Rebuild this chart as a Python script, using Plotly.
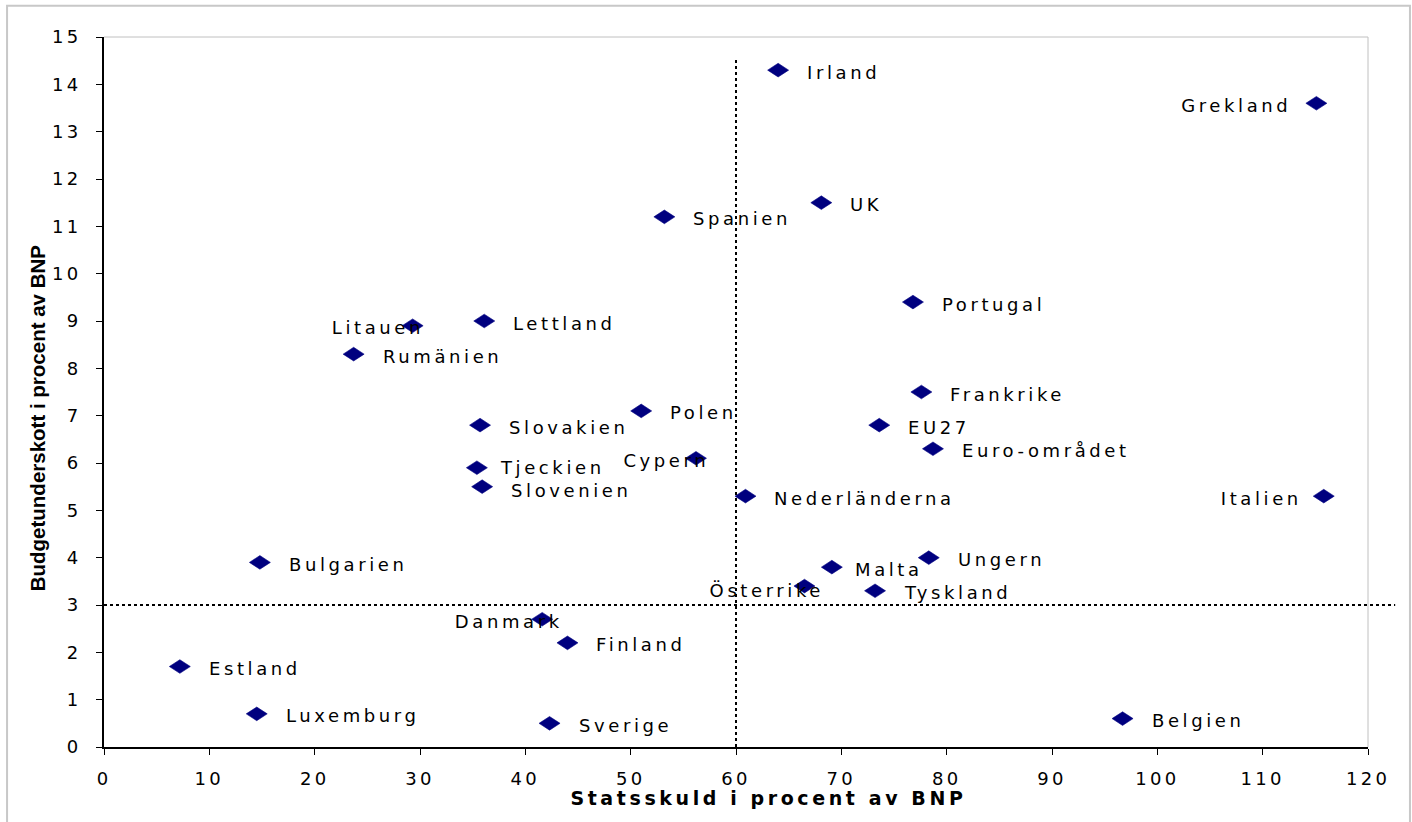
import plotly.graph_objects as go

# Government debt (x) and budget deficit (y), percent of GDP
countries = [
    "Irland", "Grekland", "UK", "Spanien", "Portugal", "Lettland", "Litauen",
    "Rumänien", "Frankrike", "Polen", "Slovakien", "EU27", "Euro-området",
    "Cypern", "Tjeckien", "Slovenien", "Nederländerna", "Italien", "Bulgarien",
    "Ungern", "Malta", "Österrike", "Tyskland", "Danmark", "Finland",
    "Estland", "Luxemburg", "Sverige", "Belgien",
]
debt = [
    64.0, 115.1, 68.1, 53.2, 76.8, 36.1, 29.3,
    23.7, 77.6, 51.0, 35.7, 73.6, 78.7,
    56.2, 35.4, 35.9, 60.9, 115.8, 14.8,
    78.3, 69.1, 66.5, 73.2, 41.6, 44.0,
    7.2, 14.5, 42.3, 96.7,
]
deficit = [
    14.3, 13.6, 11.5, 11.2, 9.4, 9.0, 8.9,
    8.3, 7.5, 7.1, 6.8, 6.8, 6.3,
    6.1, 5.9, 5.5, 5.3, 5.3, 3.9,
    4.0, 3.8, 3.4, 3.3, 2.7, 2.2,
    1.7, 0.7, 0.5, 0.6,
]

x_ticks = list(range(0, 121, 10))
y_ticks = list(range(0, 16, 1))
DEBT_LIMIT = 60
DEFICIT_LIMIT = 3
X_RANGE = [0, 120]
Y_RANGE = [0, 15]

FONT = "DejaVu Sans, Verdana, sans-serif"
NAVY = "#00007f"
LABEL_SPACING = 3.6  # px of letter-spacing for the wide Verdana-style labels
TICK_SPACING = 3.3
MARKER_Y_STRETCH = 1.3  # turns the 2:1 wide diamond into a 3:2 rhombus

# Label placement: which side of the label sits at the marker, and shift (px)
label_side = {
    "Grekland": ("right", -27), "Italien": ("right", -23),
    "Litauen": ("right", 10), "Cypern": ("right", 11),
    "Danmark": ("right", 19), "Österrike": ("right", 18),
    "Tjeckien": ("left", 21), "Malta": ("left", 21),
}
label_dy = {"Österrike": -4, "Litauen": -2, "Tjeckien": 0, "Slovenien": -4}

fig = go.Figure()
fig.add_trace(go.Scatter(
    x=debt, y=deficit, mode="markers",
    marker=dict(symbol="diamond-wide", size=15, color=NAVY,
                line=dict(color=NAVY, width=0.5)),
    hovertext=countries, hoverinfo="text", showlegend=False,
))

annotations = []
for name, xv, yv in zip(countries, debt, deficit):
    side, shift = label_side.get(name, ("left", 27))
    if side == "right":
        # end-anchored text carries trailing letter-spacing after the last glyph
        shift += LABEL_SPACING
    annotations.append(dict(
        x=xv, y=yv, xref="x", yref="y", text=name, showarrow=False,
        xanchor=side, align=side, yanchor="middle", xshift=shift,
        yshift=label_dy.get(name, -2),
        font=dict(family=FONT, size=18, color="#000000"),
    ))

annotations.append(dict(
    x=0.526, y=-0.072, xref="paper", yref="paper", yanchor="middle",
    text="<b>Statsskuld i procent av BNP</b>", showarrow=False,
    font=dict(family=FONT, size=19, color="#000000"),
))
annotations.append(dict(
    x=-0.053, y=0.463, xref="paper", yref="paper", textangle=-90,
    xanchor="center", yanchor="middle",
    text="<b>Budgetunderskott i procent av BNP</b>", showarrow=False,
    font=dict(family="Liberation Sans Narrow, Liberation Sans, Arial, sans-serif",
              size=20.5, color="#000000"),
))

shapes = [
    # 60 % debt criterion
    dict(type="line", xref="x", yref="y", x0=DEBT_LIMIT, x1=DEBT_LIMIT,
         y0=0, y1=14.55, line=dict(color="#000000", width=2, dash="dot")),
    # 3 % deficit criterion, running past the plot edge
    dict(type="line", xref="x domain", yref="y domain", x0=0, x1=1.0215,
         y0=DEFICIT_LIMIT / Y_RANGE[1], y1=DEFICIT_LIMIT / Y_RANGE[1],
         line=dict(color="#000000", width=2, dash="dot")),
    # light frame on the top and right of the plot area
    dict(type="line", xref="x domain", yref="y domain", x0=0, x1=1, y0=1, y1=1,
         line=dict(color="#c0c0c0", width=1)),
    dict(type="line", xref="x domain", yref="y domain", x0=1, x1=1, y0=0, y1=1,
         line=dict(color="#c0c0c0", width=1)),
    # outer chart border
    dict(type="rect", xref="paper", yref="paper", x0=-0.0767, x1=1.0332,
         y0=-0.15, y1=1.0441, line=dict(color="#c8c8c8", width=2),
         layer="below"),
]

fig.update_layout(
    width=1412, height=822,
    margin=dict(l=104, r=44, t=37, b=75),
    plot_bgcolor="#ffffff", paper_bgcolor="#ffffff",
    font=dict(family=FONT, size=18, color="#000000"),
    annotations=annotations, shapes=shapes,
    xaxis=dict(
        range=X_RANGE, tickmode="array", tickvals=x_ticks,
        ticktext=[str(v) for v in x_ticks],
        showgrid=False, zeroline=False, showline=True,
        linecolor="#000000", linewidth=2, ticks="outside", ticklen=6,
        tickcolor="#000000", tickwidth=1, ticklabelstandoff=8,
        tickfont=dict(family=FONT, size=18, color="#000000"),
    ),
    yaxis=dict(
        range=Y_RANGE, tickmode="array", tickvals=y_ticks,
        ticktext=[str(v) for v in y_ticks],
        showgrid=False, zeroline=False, showline=True,
        linecolor="#000000", linewidth=2, ticks="outside", ticklen=6,
        tickcolor="#000000", tickwidth=1, ticklabelstandoff=11,
        tickfont=dict(family=FONT, size=18, color="#000000"),
    ),
)

# Widen the Verdana-style texts with letter-spacing (the rotated y title
# keeps its condensed look) and give the diamond markers a 3:2 shape.
post_script = """
var gd = document.getElementById('{plot_id}');
gd.querySelectorAll('.annotation-text').forEach(function (t) {
  if (t.textContent.indexOf('Budget') === 0) { return; }
  t.style.letterSpacing = '%spx';
});
gd.querySelectorAll('.xtick text, .ytick text').forEach(function (t) {
  t.style.letterSpacing = '%spx';
});
gd.querySelectorAll('.scatterlayer path.point').forEach(function (p) {
  p.setAttribute('transform', (p.getAttribute('transform') || '') + ' scale(1,%s)');
});
""" % (LABEL_SPACING, TICK_SPACING, MARKER_Y_STRETCH)

fig.write_html("out.html", post_script=post_script)
